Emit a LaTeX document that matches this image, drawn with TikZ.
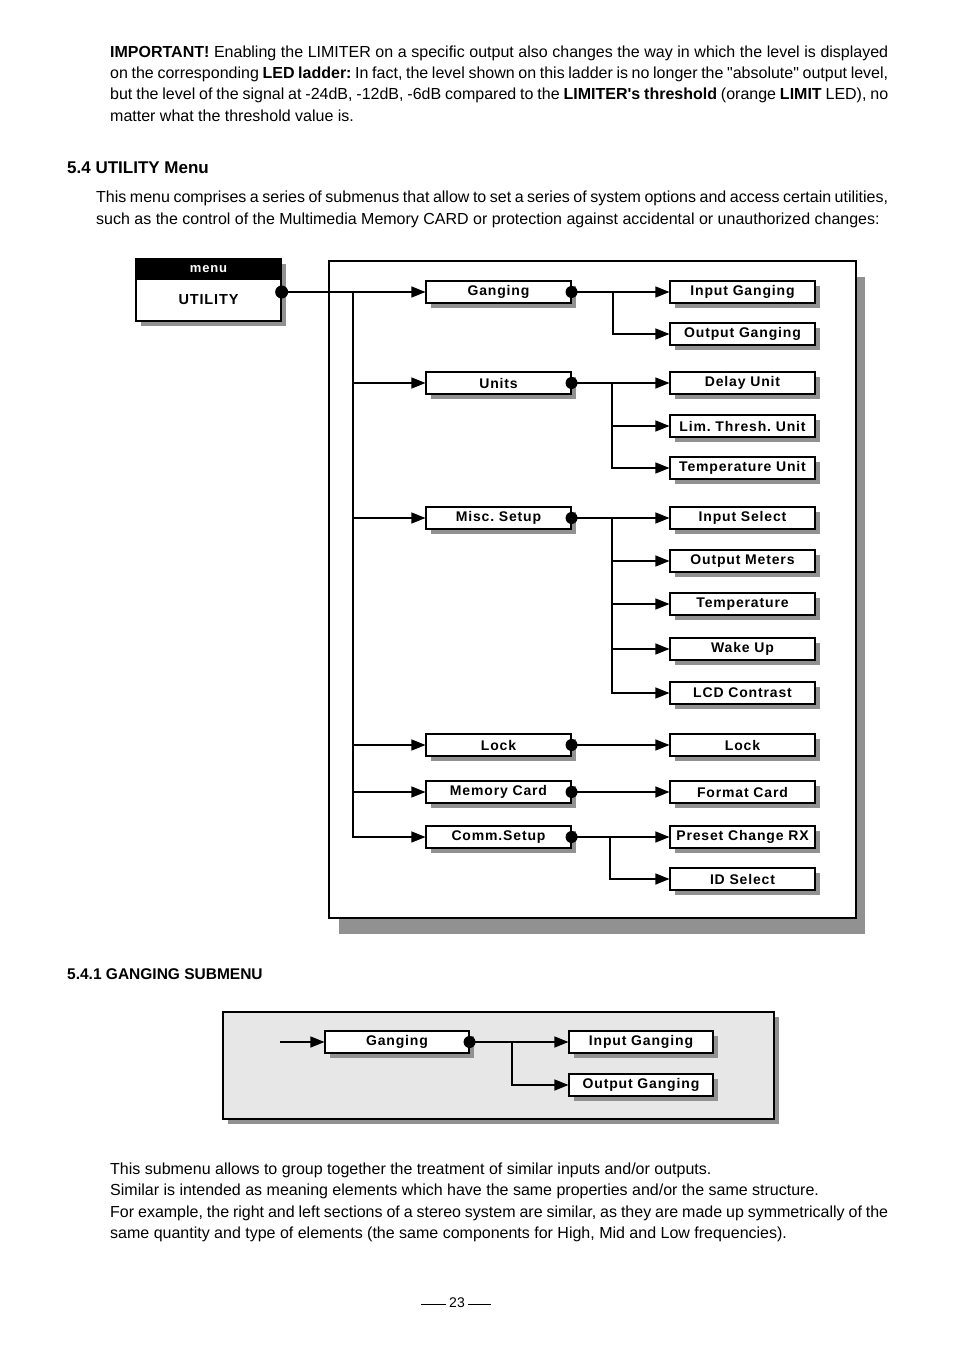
\documentclass[tikz,border=0pt]{standalone}
\usepackage{fontspec}
\setmainfont{Liberation Sans}
\newfontfamily\boxfont[LetterSpace=6]{Liberation Sans}
\usetikzlibrary{arrows.meta,shadows}
\definecolor{shadowgray}{gray}{0.57}
\definecolor{panelgray}{gray}{0.905}
\newcommand{\dq}{\XeTeXglyph\XeTeXcharglyph"22\relax}
\newcommand{\sq}{\XeTeXglyph\XeTeXcharglyph"27\relax}
\frenchspacing
\begin{document}
\begin{tikzpicture}[x=1pt,y=-1pt,
  bodytext/.style={anchor=base west, inner sep=0pt, font=\fontsize{16}{19}\selectfont},
  bx/.style={draw, line width=1.1pt, fill=white, minimum width=145pt, minimum height=22pt, inner sep=0pt,
    font=\boxfont\bfseries\fontsize{14}{15}\selectfont,
    drop shadow={shadow xshift=4.5pt, shadow yshift=-4.5pt, fill=shadowgray, opacity=1}},
  arr/.style={line width=1.2pt, -{Triangle[length=14pt,width=11pt]}},
  dot/.style={fill=black}
]
\useasboundingbox[fill=white] (0,0) rectangle (954,1351);

% ---------- top paragraph ----------
\node[bodytext] (p1a) at (110,58) {\makebox[778pt][s]{\textbf{IMPORTANT!} Enabling the LIMITER on a specific output also changes the way in which the level is displayed}};
\node[bodytext] (p1b) at (110,79) {\makebox[778pt][s]{on the corresponding \textbf{LED ladder:} In fact, the level shown on this ladder is no longer the \dq absolute\dq{} output level,}};
\node[bodytext] (p1c) at (110,100) {\makebox[778pt][s]{but the level of the signal at -24dB, -12dB, -6dB compared to the \textbf{LIMITER\sq s threshold} (orange \textbf{LIMIT} LED), no}};
\node[bodytext] (p1d) at (110,122) {matter what the threshold value is.};

\node[bodytext, font=\bfseries\fontsize{17}{20}\selectfont] (h1) at (67,174) {5.4 UTILITY Menu};
\node[bodytext] (p2a) at (96,203) {\makebox[792pt][s]{This menu comprises a series of submenus that allow to set a series of system options and access certain utilities,}};
\node[bodytext] (p2b) at (96,224) {such as the control of the Multimedia Memory CARD or protection against accidental or unauthorized changes:};

% ---------- main diagram ----------
\fill[shadowgray] (339,277) rectangle (865,934);
\draw[fill=white, line width=1.2pt] (329,261) rectangle (856,918);

\node[draw, line width=1.3pt, fill=white, minimum width=145pt, minimum height=62pt, inner sep=0pt,
  drop shadow={shadow xshift=5pt, shadow yshift=-5pt, fill=shadowgray, opacity=1}] (util) at (208.5,290) {};
\fill[black] (util.north west) rectangle (281,280);
\draw[line width=1.3pt] (util.north west) rectangle (util.south east);
\node[text=white, font=\boxfont\bfseries\fontsize{13}{14}\selectfont] (menulbl) at (208.5,269) {menu};
\node[font=\boxfont\bfseries\fontsize{14.5}{15}\selectfont] (utillbl) at (208.5,300) {UTILITY};

% level 1
\node[bx] (gang)  at (498.5,292) {Ganging};
\node[bx] (units) at (498.5,383) {Units};
\node[bx] (misc)  at (498.5,518) {Misc. Setup};
\node[bx] (lock)  at (498.5,745) {Lock};
\node[bx] (mem)   at (498.5,792) {Memory Card};
\node[bx] (comm)  at (498.5,837) {Comm.Setup};

% level 2
\node[bx] (ig)  at (742.5,292) {Input Ganging};
\node[bx] (og)  at (742.5,334) {Output Ganging};
\node[bx] (du)  at (742.5,383) {Delay Unit};
\node[bx] (lt)  at (742.5,426) {Lim. Thresh. Unit};
\node[bx] (tu)  at (742.5,468) {Temperature Unit};
\node[bx] (is)  at (742.5,518) {Input Select};
\node[bx] (om)  at (742.5,561) {Output Meters};
\node[bx] (te)  at (742.5,604) {Temperature};
\node[bx] (wu)  at (742.5,649) {Wake Up};
\node[bx] (lc)  at (742.5,693) {LCD Contrast};
\node[bx] (lk2) at (742.5,745) {Lock};
\node[bx] (fc)  at (742.5,792) {Format Card};
\node[bx] (pc)  at (742.5,837) {Preset Change RX};
\node[bx] (ids) at (742.5,879) {ID Select};

\coordinate (d0) at (util.east |- gang.west);
\coordinate (tr) at (353,292);
\coordinate (j1) at (613,292);
\coordinate (j2) at (612,383);
\coordinate (j3) at (612,518);
\coordinate (j4) at (610,837);

\draw[arr] (d0) -- (gang.west);
\foreach \n in {units,misc,lock,mem,comm} \draw[arr] (tr) |- (\n.west);

\draw[arr] (gang.east) -- (ig.west);
\draw[arr] (j1) |- (og.west);
\draw[arr] (units.east) -- (du.west);
\foreach \n in {lt,tu} \draw[arr] (j2) |- (\n.west);
\draw[arr] (misc.east) -- (is.west);
\foreach \n in {om,te,wu,lc} \draw[arr] (j3) |- (\n.west);
\draw[arr] (lock.east) -- (lk2.west);
\draw[arr] (mem.east) -- (fc.west);
\draw[arr] (comm.east) -- (pc.west);
\draw[arr] (j4) |- (ids.west);

\fill[dot] (d0) circle (6.5pt);
\foreach \n in {gang,units,misc,lock,mem,comm} \fill[dot] (\n.east) circle (6pt);

% ---------- ganging submenu ----------
\node[bodytext, font=\bfseries\fontsize{15.5}{18}\selectfont] (h2) at (67,979.5) {5.4.1 GANGING SUBMENU};

\fill[shadowgray] (228,1017) rectangle (779,1124);
\draw[fill=panelgray, line width=1.2pt] (223,1012) rectangle (774,1119);

\node[bx, minimum width=144pt] (bgang) at (397,1042) {Ganging};
\node[bx, minimum width=144pt] (bin)   at (641,1042) {Input Ganging};
\node[bx, minimum width=144pt] (bout)  at (641,1085) {Output Ganging};
\coordinate (bs) at (280,1042);
\coordinate (j5) at (512,1042);
\draw[arr] (bs) -- (bgang.west);
\draw[arr] (bgang.east) -- (bin.west);
\draw[arr] (j5) |- (bout.west);
\fill[dot] (bgang.east) circle (6pt);

% ---------- bottom paragraph ----------
\node[bodytext] (p3a) at (110,1174) {This submenu allows to group together the treatment of similar inputs and/or outputs.};
\node[bodytext] (p3b) at (110,1195) {Similar is intended as meaning elements which have the same properties and/or the same structure.};
\node[bodytext] (p3c) at (110,1217) {\makebox[778pt][s]{For example, the right and left sections of a stereo system are similar, as they are made up symmetrically of the}};
\node[bodytext] (p3d) at (110,1238) {same quantity and type of elements (the same components for High, Mid and Low frequencies).};

% page number
\node[font=\fontsize{14}{16}\selectfont, inner sep=2pt] (pg) at (457,1303) {23};
\draw[line width=0.7pt] (pg.west) ++(-1,1) -- ++(-25,0);
\draw[line width=0.7pt] (pg.east) ++(1,1) -- ++(23,0);
\end{tikzpicture}
\end{document}
